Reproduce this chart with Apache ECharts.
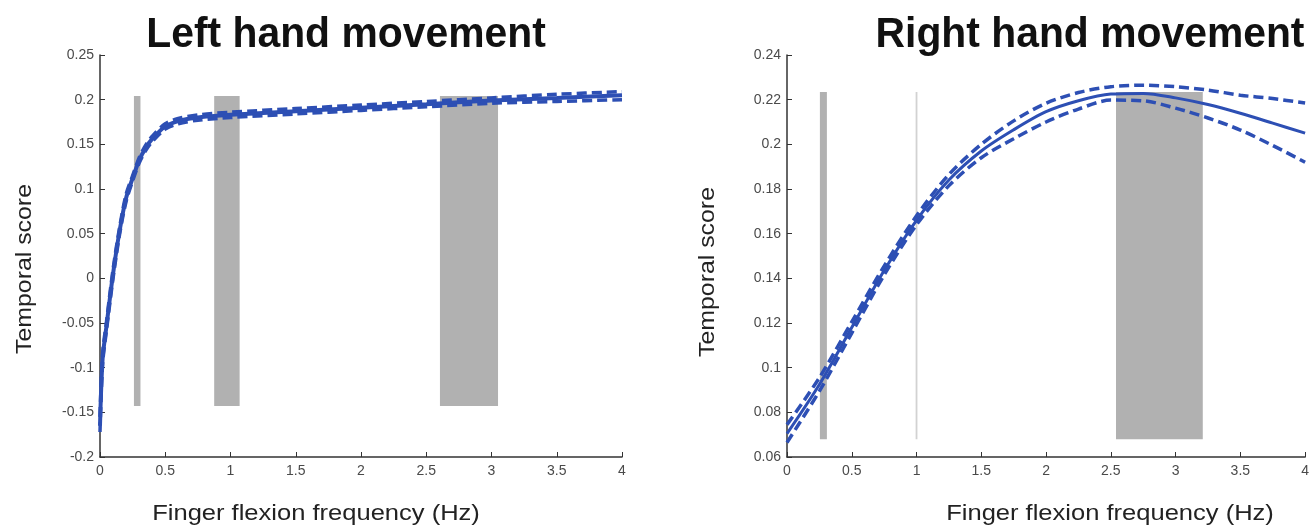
<!DOCTYPE html>
<html>
<head>
<meta charset="utf-8">
<script src="https://cdn.jsdelivr.net/npm/echarts@6/dist/echarts.min.js"></script>
<style>
  html, body { margin: 0; padding: 0; background: #fff; }
  #chart { width: 1312px; height: 528px; }
</style>
</head>
<body>
<div id="chart"></div>
<script>
// left hand movement
const freqL = [0, 0.02, 0.05, 0.1, 0.15, 0.2, 0.25, 0.3, 0.35, 0.4, 0.5, 0.6, 0.75, 1.0, 1.5, 2.0, 2.5, 3.0, 3.5, 4.0]
const meanL = [-0.165, -0.09, -0.053, 0.005, 0.053, 0.09, 0.112, 0.132, 0.146, 0.156, 0.17, 0.176, 0.18, 0.183, 0.187, 0.191, 0.195, 0.199, 0.202, 0.205]
const upperL = [-0.155, -0.084, -0.048, 0.01, 0.057, 0.094, 0.115, 0.135, 0.149, 0.159, 0.173, 0.179, 0.183, 0.186, 0.19, 0.194, 0.198, 0.202, 0.206, 0.209]
const lowerL = [-0.172, -0.096, -0.058, 0.0, 0.049, 0.086, 0.109, 0.129, 0.143, 0.153, 0.167, 0.173, 0.177, 0.18, 0.184, 0.188, 0.192, 0.196, 0.198, 0.2]

// right hand movement
const freqR = [0, 0.25, 0.5, 0.75, 1, 1.25, 1.5, 1.75, 2, 2.25, 2.5, 2.75, 3, 3.25, 3.5, 3.75, 4]
const meanR = [0.0705, 0.0925, 0.118, 0.1435, 0.166, 0.184, 0.197, 0.2065, 0.2146, 0.2195, 0.2225, 0.2228, 0.2208, 0.2178, 0.2139, 0.2095, 0.205]
const upperR = [0.0745, 0.0955, 0.1205, 0.1455, 0.168, 0.1865, 0.2, 0.2105, 0.2184, 0.2232, 0.2258, 0.2265, 0.2258, 0.2243, 0.222, 0.2205, 0.2185]
const lowerR = [0.0665, 0.0895, 0.1155, 0.1415, 0.164, 0.1815, 0.194, 0.2025, 0.21, 0.2158, 0.2198, 0.2195, 0.2162, 0.2118, 0.2064, 0.1995, 0.192]

// grey frequency bands [from, to]
const bandsL = [[0.26, 0.31], [0.875, 1.07], [2.605, 3.05]]
const bandYL = [-0.143, 0.204]
const bandsR = [[0.254, 0.308], [2.54, 3.21]]
const thinLineR = [0.993, 1.007]
const bandYR = [0.068, 0.2234]

const blue = '#2d4fb4'
const font = 'Liberation Sans, Arial, sans-serif'

const zip = (xs, ys) => xs.map((x, i) => [x, ys[i]])

const curve = (xs, ys, idx, dashed, width) => ({
  type: 'line',
  xAxisIndex: idx,
  yAxisIndex: idx,
  data: zip(xs, ys),
  smooth: 0.3,
  showSymbol: false,
  z: 3,
  lineStyle: { color: blue, width, type: dashed ? [10, 5] : 'solid' }
})

// grey bars behind the curves
const bandSeries = (bands, yr, idx, extra) => ({
  type: 'line',
  xAxisIndex: idx,
  yAxisIndex: idx,
  data: [],
  z: 1,
  markArea: {
    silent: true,
    itemStyle: { color: '#b1b1b1' },
    data: bands.map(b => [{ xAxis: b[0], yAxis: yr[0] }, { xAxis: b[1], yAxis: yr[1] }])
      .concat(extra ? [[{ xAxis: extra[0], yAxis: yr[0], itemStyle: { color: '#d2d2d2' } }, { xAxis: extra[1], yAxis: yr[1] }]] : [])
  }
})

const labelStyle = { color: '#4a4a4a', fontSize: 14, fontFamily: font }

const xAxisBase = (idx) => ({
  type: 'value',
  gridIndex: idx,
  min: 0,
  max: 4,
  interval: 0.5,
  splitLine: { show: false },
  axisLine: { onZero: false, lineStyle: { color: '#333', width: 1.5 } },
  axisTick: { inside: true, length: 5, lineStyle: { color: '#333' } },
  axisLabel: { ...labelStyle, margin: 7 }
})

const yAxisBase = (idx, min, max, interval) => ({
  type: 'value',
  gridIndex: idx,
  min, max, interval,
  splitLine: { show: false },
  axisLine: { show: true, onZero: false, lineStyle: { color: '#333', width: 1.5 } },
  axisTick: { show: true, inside: true, length: 5, lineStyle: { color: '#333' } },
  axisLabel: { ...labelStyle, margin: 6 }
})

const text = (str, x, y, size, opts) => ({
  type: 'text', x, y,
  rotation: opts.rot || 0,
  scaleX: opts.sx || 1,
  style: { text: str, fontSize: size, fontWeight: opts.bold ? 'bold' : 'normal', fontFamily: font,
    fill: opts.bold ? '#111' : '#222', align: 'center', verticalAlign: 'middle' }
})

const chart = echarts.init(document.getElementById('chart'))

chart.setOption({
  backgroundColor: '#fff',
  animation: false,
  grid: [
    { left: 100, top: 55, width: 522, height: 402 },
    { left: 787, top: 55, width: 520, height: 402 }
  ],
  xAxis: [xAxisBase(0), xAxisBase(1)],
  yAxis: [
    yAxisBase(0, -0.2, 0.25, 0.05),
    yAxisBase(1, 0.06, 0.24, 0.02)
  ],
  graphic: [
    text('Left hand movement', 346, 35, 43, { bold: true, sx: 0.95 }),
    text('Right hand movement', 1090, 35, 43, { bold: true, sx: 0.95 }),
    text('Temporal score', 25, 269, 22, { rot: Math.PI / 2, sx: 1.13 }),
    text('Temporal score', 708, 272, 22, { rot: Math.PI / 2, sx: 1.13 }),
    text('Finger flexion frequency (Hz)', 316, 514, 22, { sx: 1.16 }),
    text('Finger flexion frequency (Hz)', 1110, 514, 22, { sx: 1.16 })
  ],
  series: [
    bandSeries(bandsL, bandYL, 0),
    bandSeries(bandsR, bandYR, 1, thinLineR),
    curve(freqL, meanL, 0, false, 4),
    curve(freqL, upperL, 0, true, 3.5),
    curve(freqL, lowerL, 0, true, 3.5),
    curve(freqR, meanR, 1, false, 3),
    curve(freqR, upperR, 1, true, 3.5),
    curve(freqR, lowerR, 1, true, 3.5)
  ]
})
</script>
</body>
</html>
